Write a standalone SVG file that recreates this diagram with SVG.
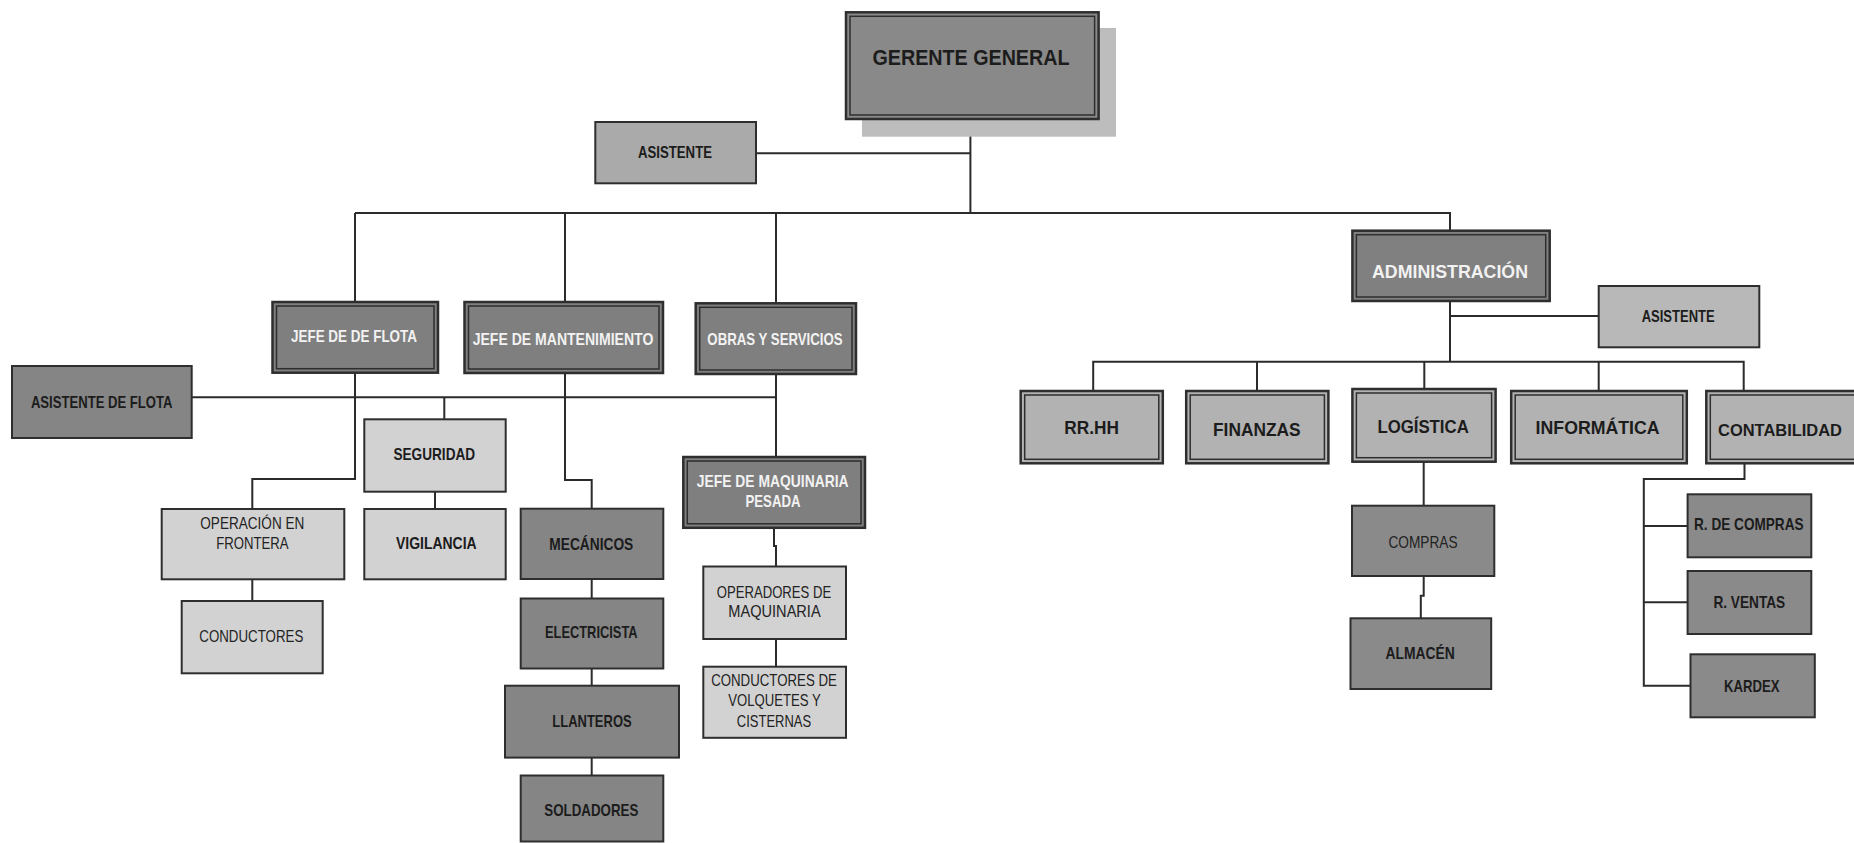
<svg xmlns="http://www.w3.org/2000/svg" width="1854" height="843" viewBox="0 0 1854 843">
<style>
.bg{fill:#ffffff}
.dk{fill:#858585;stroke:#2e2e2e;stroke-width:2}
.md{fill:#b2b2b2;stroke:#2e2e2e;stroke-width:2}
.lt{fill:#d2d2d2;stroke:#2e2e2e;stroke-width:2}
.dbl{fill:none;stroke:#2e2e2e;stroke-width:1.5}
.shadow{fill:#bdbdbd}
.t{font-family:"Liberation Sans",Arial,sans-serif;font-size:17px;font-weight:bold;fill:#1c1c1c;text-anchor:middle}
.w{fill:#f2f2f2}
.r{font-weight:normal;fill:#222}
.big{font-size:19px}
.gg{font-size:22px}
.c{fill:none;stroke:#2b2b2b;stroke-width:2}
</style>
<rect class="bg" x="0" y="0" width="1854" height="843"/>
<g id="connectors">
<path class="c" d="M970.4,119 V213"/>
<path class="c" d="M756,153.3 H970.4"/>
<path class="c" d="M355,213 H1450 V230.7"/>
<path class="c" d="M355,213 V302"/>
<path class="c" d="M565,213 V302"/>
<path class="c" d="M776,213 V303.3"/>
<path class="c" d="M191.7,397.3 H776"/>
<path class="c" d="M355,372.7 V479 H252.3 V509"/>
<path class="c" d="M444.3,397.3 V419.3"/>
<path class="c" d="M435,491.7 V509"/>
<path class="c" d="M565,373 V480 H591.7 V508.7"/>
<path class="c" d="M776,374 V457"/>
<path class="c" d="M774,527.8 V546 H776 V566.5"/>
<path class="c" d="M776,639 V666.7"/>
<path class="c" d="M591.7,579 V598.5"/>
<path class="c" d="M591.7,668.5 V685.7"/>
<path class="c" d="M591.7,757.6 V775.5"/>
<path class="c" d="M252.3,579.3 V601"/>
<path class="c" d="M1450,301 V361.7"/>
<path class="c" d="M1450,316 H1598.7"/>
<path class="c" d="M1093.2,391 V361.7 H1743.7 V391"/>
<path class="c" d="M1257,361.7 V391"/>
<path class="c" d="M1424.3,361.7 V389"/>
<path class="c" d="M1598.7,361.7 V391"/>
<path class="c" d="M1423.7,461.7 V505.7"/>
<path class="c" d="M1423.7,576 V595.7 H1420.8 V618.3"/>
<path class="c" d="M1744.5,463 V479 H1643.8 V685.7 H1690.5"/>
<path class="c" d="M1643.8,526 H1687.6"/>
<path class="c" d="M1643.8,602.3 H1687.6"/>
</g>
<g id="gerente-general">
<rect class="shadow" x="862" y="28" width="254" height="108.7"/>
<rect class="dk" x="846" y="12.3" width="252.6" height="106.7" style="fill:#898989;stroke-width:2.5"/>
<rect class="dbl" x="850" y="16.3" width="244.6" height="98.7"/>
<text class="t gg" x="971" y="64.9" textLength="197" lengthAdjust="spacingAndGlyphs">GERENTE GENERAL</text>
</g>
<g id="asistente">
<rect class="md" x="595.3" y="122" width="160.7" height="61.3" style="fill:#aaaaaa"/>
<text class="t" x="675" y="158" textLength="74" lengthAdjust="spacingAndGlyphs">ASISTENTE</text>
</g>
<g id="jefe-flota">
<rect class="dk" x="272.5" y="302" width="165.5" height="70.7" style="fill:#7f7f7f;stroke-width:2.5"/>
<rect class="dbl" x="276.5" y="306" width="157.5" height="62.7"/>
<text class="t w" x="354" y="342" textLength="126" lengthAdjust="spacingAndGlyphs">JEFE DE  DE FLOTA</text>
</g>
<g id="jefe-mantenimiento">
<rect class="dk" x="464.5" y="302" width="198.5" height="71" style="fill:#7f7f7f;stroke-width:2.5"/>
<rect class="dbl" x="468.5" y="306" width="190.5" height="63"/>
<text class="t w" x="563" y="345" textLength="180.7" lengthAdjust="spacingAndGlyphs">JEFE DE MANTENIMIENTO</text>
</g>
<g id="obras-servicios">
<rect class="dk" x="695.7" y="303.3" width="160.3" height="70.7" style="fill:#7f7f7f;stroke-width:2.5"/>
<rect class="dbl" x="699.7" y="307.3" width="152.3" height="62.7"/>
<text class="t w" x="775" y="345" textLength="135.3" lengthAdjust="spacingAndGlyphs">OBRAS Y SERVICIOS</text>
</g>
<g id="asistente-flota">
<rect class="dk" x="12" y="366" width="179.7" height="72"/>
<text class="t" x="101.7" y="407.8" textLength="141.6" lengthAdjust="spacingAndGlyphs">ASISTENTE DE FLOTA</text>
</g>
<g id="seguridad">
<rect class="lt" x="364.3" y="419.3" width="141.4" height="72.4"/>
<text class="t" x="434.3" y="460.4" textLength="81.7" lengthAdjust="spacingAndGlyphs">SEGURIDAD</text>
</g>
<g id="vigilancia">
<rect class="lt" x="364.3" y="509" width="141.4" height="70.3"/>
<text class="t" x="436.3" y="549.4" textLength="80.7" lengthAdjust="spacingAndGlyphs">VIGILANCIA</text>
</g>
<g id="operacion-frontera">
<rect class="lt" x="161.7" y="509" width="182.6" height="70.3"/>
<text class="t r" x="252.3" y="529.4" textLength="104" lengthAdjust="spacingAndGlyphs">OPERACIÓN EN</text>
<text class="t r" x="252.3" y="549.4" textLength="72.3" lengthAdjust="spacingAndGlyphs">FRONTERA</text>
</g>
<g id="conductores">
<rect class="lt" x="181.7" y="601" width="141" height="72.3"/>
<text class="t r" x="251.3" y="642" textLength="104" lengthAdjust="spacingAndGlyphs">CONDUCTORES</text>
</g>
<g id="mecanicos">
<rect class="dk" x="520.7" y="508.7" width="142.6" height="70.3"/>
<text class="t" x="591.3" y="550" textLength="84" lengthAdjust="spacingAndGlyphs">MECÁNICOS</text>
</g>
<g id="electricista">
<rect class="dk" x="520.7" y="598.5" width="142.6" height="70"/>
<text class="t" x="591.3" y="638" textLength="92.7" lengthAdjust="spacingAndGlyphs">ELECTRICISTA</text>
</g>
<g id="llanteros">
<rect class="dk" x="505" y="685.7" width="174" height="71.9"/>
<text class="t" x="592" y="727" textLength="79.3" lengthAdjust="spacingAndGlyphs">LLANTEROS</text>
</g>
<g id="soldadores">
<rect class="dk" x="520.7" y="775.5" width="142.6" height="66"/>
<text class="t" x="591.3" y="815.7" textLength="94" lengthAdjust="spacingAndGlyphs">SOLDADORES</text>
</g>
<g id="jefe-maquinaria">
<rect class="dk" x="683.3" y="457" width="181.7" height="70.8" style="fill:#7f7f7f;stroke-width:2.5"/>
<rect class="dbl" x="687.3" y="461" width="173.7" height="62.8"/>
<text class="t w" x="772.7" y="487" textLength="151.7" lengthAdjust="spacingAndGlyphs">JEFE DE MAQUINARIA</text>
<text class="t w" x="773" y="506.9" textLength="55" lengthAdjust="spacingAndGlyphs">PESADA</text>
</g>
<g id="operadores">
<rect class="lt" x="703.3" y="566.5" width="142.7" height="72.5"/>
<text class="t r" x="774" y="597.8" textLength="114.3" lengthAdjust="spacingAndGlyphs">OPERADORES DE</text>
<text class="t r" x="774.5" y="617.1" textLength="92.3" lengthAdjust="spacingAndGlyphs">MAQUINARIA</text>
</g>
<g id="conductores-volquetes">
<rect class="lt" x="703.3" y="666.7" width="142.7" height="71.1"/>
<text class="t r" x="774" y="686" textLength="125.7" lengthAdjust="spacingAndGlyphs">CONDUCTORES DE</text>
<text class="t r" x="774.5" y="706" textLength="92.3" lengthAdjust="spacingAndGlyphs">VOLQUETES Y</text>
<text class="t r" x="774" y="727" textLength="74.3" lengthAdjust="spacingAndGlyphs">CISTERNAS</text>
</g>
<g id="administracion">
<rect class="dk" x="1352.4" y="230.7" width="197.3" height="70.3" style="fill:#808080;stroke-width:2.5"/>
<rect class="dbl" x="1356.4" y="234.7" width="189.3" height="62.3"/>
<text class="t w big" x="1450" y="277.5" textLength="156" lengthAdjust="spacingAndGlyphs">ADMINISTRACIÓN</text>
</g>
<g id="asistente-admin">
<rect class="md" x="1598.7" y="286" width="160.6" height="61.3" style="fill:#b8b8b8"/>
<text class="t" x="1678.2" y="322" textLength="73" lengthAdjust="spacingAndGlyphs">ASISTENTE</text>
</g>
<g id="rrhh">
<rect class="md" x="1020.7" y="391" width="142.1" height="72.3" style="stroke-width:2.5"/>
<rect class="dbl" x="1024.7" y="395" width="134.1" height="64.3"/>
<text class="t big" x="1091.6" y="433.5" textLength="54.6" lengthAdjust="spacingAndGlyphs">RR.HH</text>
</g>
<g id="finanzas">
<rect class="md" x="1186.2" y="391" width="142.2" height="72.3" style="stroke-width:2.5"/>
<rect class="dbl" x="1190.2" y="395" width="134.2" height="64.3"/>
<text class="t big" x="1256.8" y="436.1" textLength="87.5" lengthAdjust="spacingAndGlyphs">FINANZAS</text>
</g>
<g id="logistica">
<rect class="md" x="1352.4" y="389" width="143.2" height="72.7" style="stroke-width:2.5"/>
<rect class="dbl" x="1356.4" y="393" width="135.2" height="64.7"/>
<text class="t big" x="1423.1" y="432.8" textLength="91.4" lengthAdjust="spacingAndGlyphs">LOGÍSTICA</text>
</g>
<g id="informatica">
<rect class="md" x="1511.2" y="391" width="175.6" height="72.3" style="stroke-width:2.5"/>
<rect class="dbl" x="1515.2" y="395" width="167.6" height="64.3"/>
<text class="t big" x="1597.6" y="433.5" textLength="124" lengthAdjust="spacingAndGlyphs">INFORMÁTICA</text>
</g>
<g id="contabilidad">
<rect class="md" x="1706.3" y="391" width="180" height="72.3" style="stroke-width:2.5"/>
<rect class="dbl" x="1710.3" y="395" width="172" height="64.3"/>
<text class="t" x="1718" y="435.5" textLength="124" lengthAdjust="spacingAndGlyphs" style="text-anchor:start">CONTABILIDAD</text>
</g>
<g id="compras">
<rect class="dk" x="1352" y="505.7" width="142.3" height="70.3" style="fill:#8a8a8a"/>
<text class="t r" x="1423" y="547.8" textLength="69" lengthAdjust="spacingAndGlyphs">COMPRAS</text>
</g>
<g id="almacen">
<rect class="dk" x="1350.5" y="618.3" width="140.7" height="70.7" style="fill:#8a8a8a"/>
<text class="t" x="1420.2" y="658.8" textLength="69.3" lengthAdjust="spacingAndGlyphs">ALMACÉN</text>
</g>
<g id="r-compras">
<rect class="dk" x="1687.6" y="494.3" width="123.7" height="63" style="fill:#8a8a8a"/>
<text class="t" x="1748.8" y="530.4" textLength="109.5" lengthAdjust="spacingAndGlyphs">R. DE COMPRAS</text>
</g>
<g id="r-ventas">
<rect class="dk" x="1687.6" y="571" width="123.7" height="63" style="fill:#8a8a8a"/>
<text class="t" x="1749.3" y="608.4" textLength="71.8" lengthAdjust="spacingAndGlyphs">R. VENTAS</text>
</g>
<g id="kardex">
<rect class="dk" x="1690.5" y="654.3" width="124.3" height="63" style="fill:#8a8a8a"/>
<text class="t" x="1751.8" y="691.8" textLength="55.5" lengthAdjust="spacingAndGlyphs">KARDEX</text>
</g>
</svg>
